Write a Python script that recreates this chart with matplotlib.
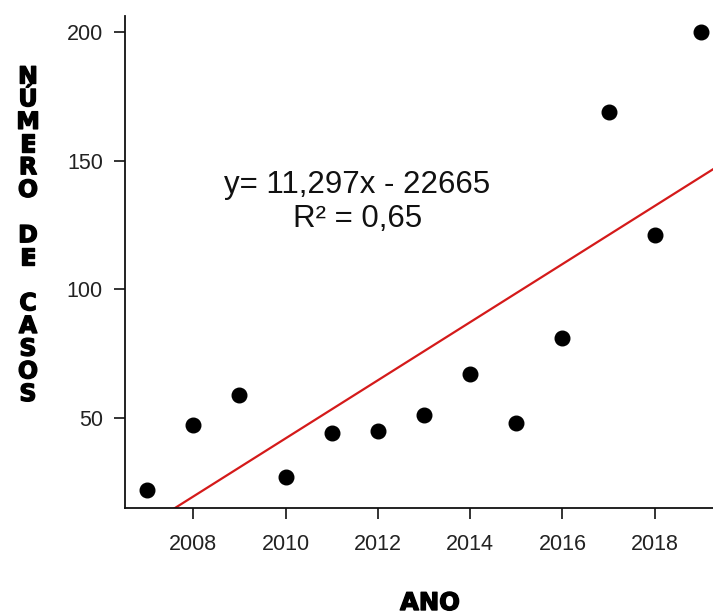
import matplotlib
matplotlib.use("Agg")
import matplotlib.pyplot as plt
import matplotlib.patheffects as pe
import numpy as np

# Data
anos = [2007, 2008, 2009, 2010, 2011, 2012, 2013, 2014, 2015, 2016, 2017, 2018, 2019]
casos = [22, 47, 59, 27, 44, 45, 51, 67, 48, 81, 169, 121, 200]
slope = 11.297
intercept = -22665
eq_text = "y= 11,297x - 22665"
r2_text = "R² = 0,65"
x_ticks = [2008, 2010, 2012, 2014, 2016, 2018]
y_ticks = [50, 100, 150, 200]
ylabel_text = "NÚMERO DE CASOS"
xlabel_text = "ANO"

W, H = 713, 614
fig = plt.figure(figsize=(W / 100, H / 100), dpi=100)
ax = fig.add_axes([125 / W, 1 - 508 / H, (723 - 125) / W, (508 - 16.3) / H])

ax.plot(anos, casos, 'o', color='black', markersize=10.5, zorder=3)

xmin, xmax = 2006.52, 2019.48
xs = np.array([xmin, xmax])
ax.plot(xs, slope * xs + intercept, color='#d41a1a', linewidth=1.6, zorder=2)

ax.set_xlim(xmin, xmax)
ax.set_ylim(14.9, 206.1)

for s in ['top', 'right']:
    ax.spines[s].set_visible(False)
for s in ['left', 'bottom']:
    ax.spines[s].set_linewidth(1.3)
    ax.spines[s].set_color('#111111')

ax.set_xticks(x_ticks)
ax.set_yticks(y_ticks)
ax.tick_params(axis='both', length=8, width=1.2, color='#111111',
               labelsize=15.5, labelcolor='#222222')
ax.tick_params(axis='x', pad=11)
ax.tick_params(axis='y', pad=8)
for lab in ax.get_xticklabels() + ax.get_yticklabels():
    lab.set_fontfamily('Liberation Sans')

ax.text(2011.55, 140.4, eq_text, fontsize=22.5, family='Liberation Sans',
        ha='center', va='center', color='#111111')
ax.text(2011.55, 127.3, r2_text, fontsize=22.5, family='Liberation Sans',
        ha='center', va='center', color='#111111')

heavy = [pe.withStroke(linewidth=1.0, foreground='black')]

# stacked vertical y label
letters = list(ylabel_text)
y0 = 76.5
pitch = (394 - 76.5) / (len(letters) - 1)
for i, ch in enumerate(letters):
    if ch == ' ':
        continue
    fig.text(28 / W, 1 - (y0 + i * pitch) / H, ch, fontsize=17,
             fontweight='heavy', family='DejaVu Sans', ha='center',
             va='center', color='black', path_effects=heavy)

fig.text(430 / W, 1 - 603 / H, xlabel_text, fontsize=17.5, fontweight='heavy',
         family='DejaVu Sans', ha='center', va='center', color='black',
         path_effects=heavy)

fig.savefig('out.png', dpi=100)
